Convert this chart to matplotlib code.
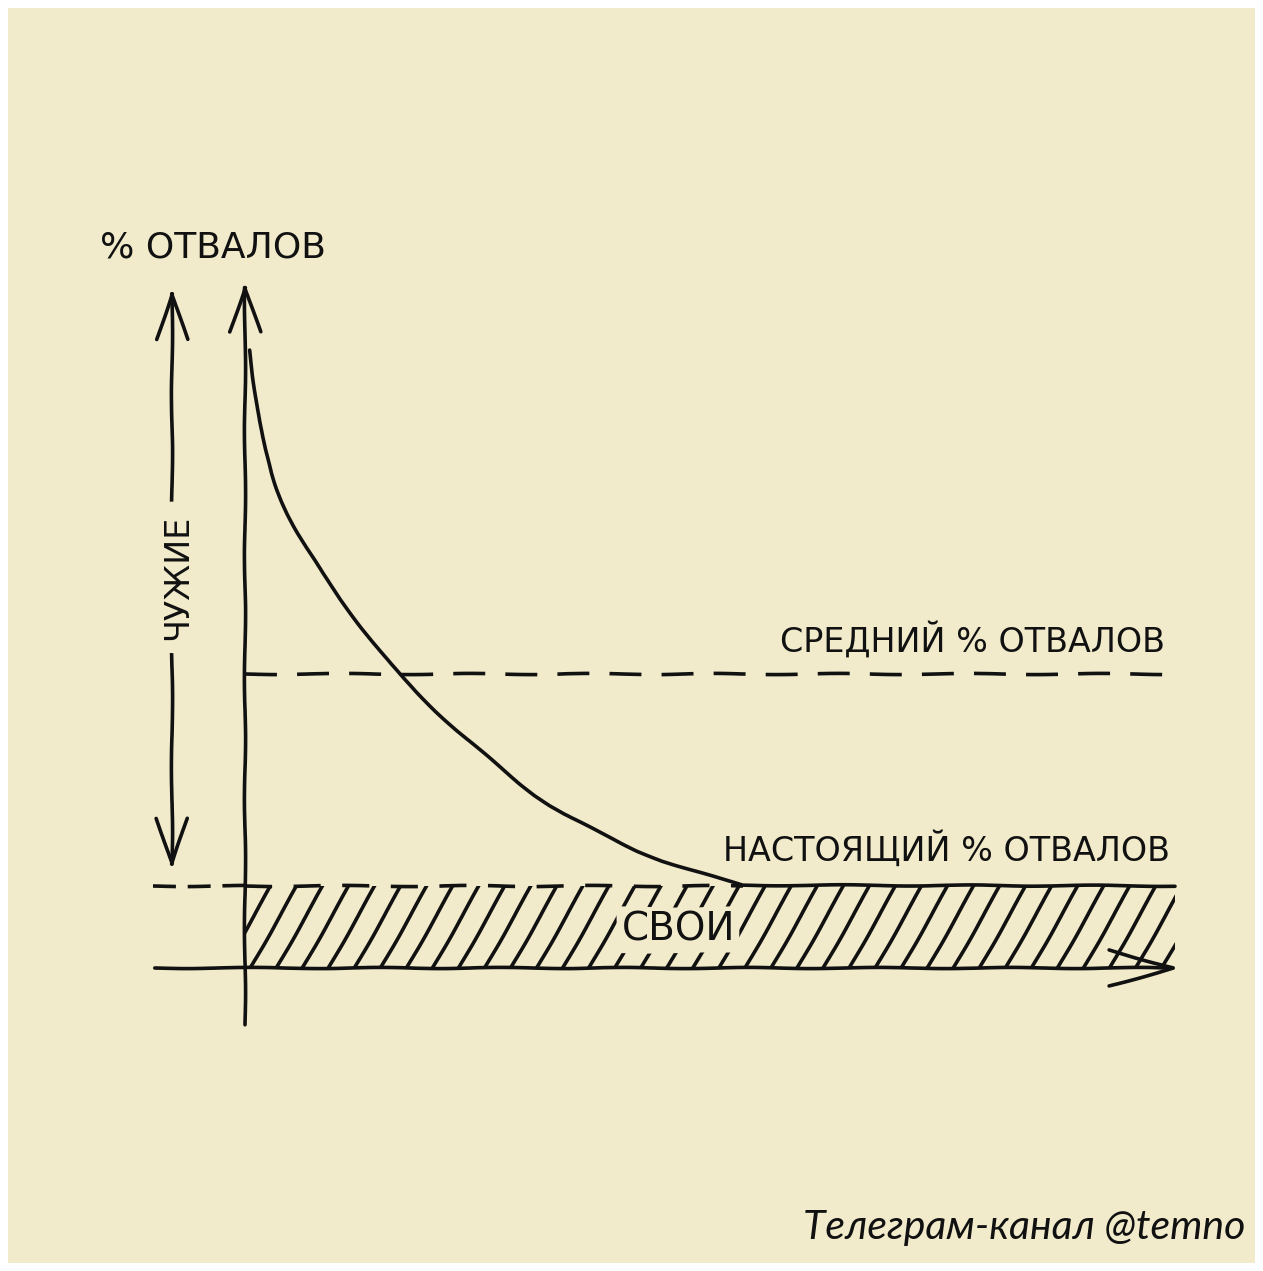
import matplotlib
matplotlib.use('Agg')
import matplotlib.pyplot as plt
from matplotlib.patches import Rectangle, PathPatch
from matplotlib.path import Path
import numpy as np

# churn curve: share of churn (y) over time (x)
curve_x = [0.5, 1.3, 2.4, 4.1, 7.3, 11.3, 16.3, 22.0, 25.6, 32.0, 38.2, 43.5, 48.9, 53.5]
curve_y = [92.5, 83.5, 75.6, 69.0, 61.1, 53.1, 44.2, 36.4, 32.2, 24.7, 20.2, 16.6, 14.2, 12.4]

avg_churn = 44.0    # average churn level (dashed line)
real_churn = 12.3   # real churn level (top of hatched band)
x_end = 100.0

y_label = '% ОТВАЛОВ'
avg_label = 'СРЕДНИЙ % ОТВАЛОВ'
real_label = 'НАСТОЯЩИЙ % ОТВАЛОВ'
own_label = 'СВОИ'
foreign_label = 'ЧУЖИЕ'
footer = 'Телеграм-канал @temno'

bg = '#F1EBCB'
ink = '#111111'
lw = 2.6

plt.rcParams['lines.scale_dashes'] = False
plt.rcParams['path.sketch'] = (0.6, 140, 2)
plt.rcParams['font.family'] = ['DejaVu Sans']

W, H = 1263, 1271
fig = plt.figure(figsize=(W / 100, H / 100), dpi=100, facecolor='white')

# cream card with thin white frame (drawn below the axes, no wobble)
card = Rectangle((8 / W, 8 / H), (W - 16) / W, (H - 16) / H,
                 transform=fig.transFigure, facecolor=bg,
                 edgecolor='none', zorder=-5)
card.set_sketch_params(None)
fig.patches.append(card)

# axes: x 0..100 -> px 245..1175, y 0..100 -> px 968..300
ax = fig.add_axes([245 / W, 1 - 968 / H, 930 / W, 668 / H])
ax.set_xlim(0, 100)
ax.set_ylim(0, 100)
ax.axis('off')
ax.patch.set_visible(False)

arrow_kw = dict(color=ink, lw=lw, shrinkA=0, shrinkB=0)

# y axis
ax.annotate('', xy=(0, 102.7), xytext=(0, -8.5), annotation_clip=False,
            arrowprops=dict(arrowstyle='->,head_length=3.2,head_width=1.1', **arrow_kw))
# x axis
ax.annotate('', xy=(100.5, 0), xytext=(-9.7, 0), annotation_clip=False,
            arrowprops=dict(arrowstyle='->,head_length=4.6,head_width=1.3', **arrow_kw))
# "foreign" double arrow on the left
ax.annotate('', xy=(-7.85, 101.8), xytext=(-7.85, 14.7), annotation_clip=False,
            arrowprops=dict(arrowstyle='<->,head_length=3.3,head_width=1.1', **arrow_kw))

# average churn line
ax.plot([0, 99.2], [avg_churn, avg_churn], color=ink, lw=lw, ls='--',
        dashes=(23, 14.5), clip_on=False)
# real churn marker left of the axis
ax.plot([-9.9, 0], [real_churn, real_churn], color=ink, lw=lw, ls='--',
        dashes=(16.5, 8.5), clip_on=False)

# hatched band of "own" churn
band = Rectangle((0, 0), x_end, real_churn, transform=ax.transData)
spacing = 2.8
slant = 5.05
for x0 in np.arange(-slant, x_end + spacing, spacing):
    ln, = ax.plot([x0, x0 + slant], [0, real_churn], color=ink, lw=lw, clip_on=True)
    ln.set_clip_path(band)

# top edge of band, broken until the curve reaches it
ax.plot([0, curve_x[-1]], [real_churn, real_churn], color=ink, lw=lw, ls='--',
        dashes=(19.5, 15.5), clip_on=False)

# churn curve as a smooth quadratic path through the read points,
# then running flat along the real churn level
pts = list(zip(curve_x, curve_y))
verts = [pts[0]]
codes = [Path.MOVETO]
for i in range(1, len(pts) - 1):
    mid = ((pts[i][0] + pts[i + 1][0]) / 2, (pts[i][1] + pts[i + 1][1]) / 2)
    if i == len(pts) - 2:
        mid = pts[-1]
    verts += [pts[i], mid]
    codes += [Path.CURVE3, Path.CURVE3]
verts.append((x_end, real_churn))
codes.append(Path.LINETO)
curve = PathPatch(Path(verts, codes), facecolor='none', edgecolor=ink, lw=lw,
                  capstyle='round', joinstyle='round', clip_on=False)
ax.add_patch(curve)

# labels
txt = dict(color=ink, va='center', clip_on=False)
ax.text(-15.6, 107.8, y_label, ha='left', fontsize=26, **txt)
ax.text(98.9, 49.1, avg_label, ha='right', fontsize=24, **txt)
ax.text(99.5, 17.7, real_label, ha='right', fontsize=24, **txt)
ax.text(46.6, 5.7, own_label, ha='center', fontsize=28, zorder=5,
        bbox=dict(facecolor=bg, edgecolor='none', pad=3), **txt)
ax.text(-7.2, 58.5, foreign_label, ha='center', rotation=90, fontsize=24, zorder=5,
        bbox=dict(facecolor=bg, edgecolor='none', pad=9), **txt)

fig.text(1245 / W, 1 - 1228 / H, footer, ha='right', va='center', style='italic',
         fontsize=29.5, color=ink, family=['Lato', 'Noto Sans', 'DejaVu Sans'])

fig.savefig('out.png', dpi=100, facecolor='white')
